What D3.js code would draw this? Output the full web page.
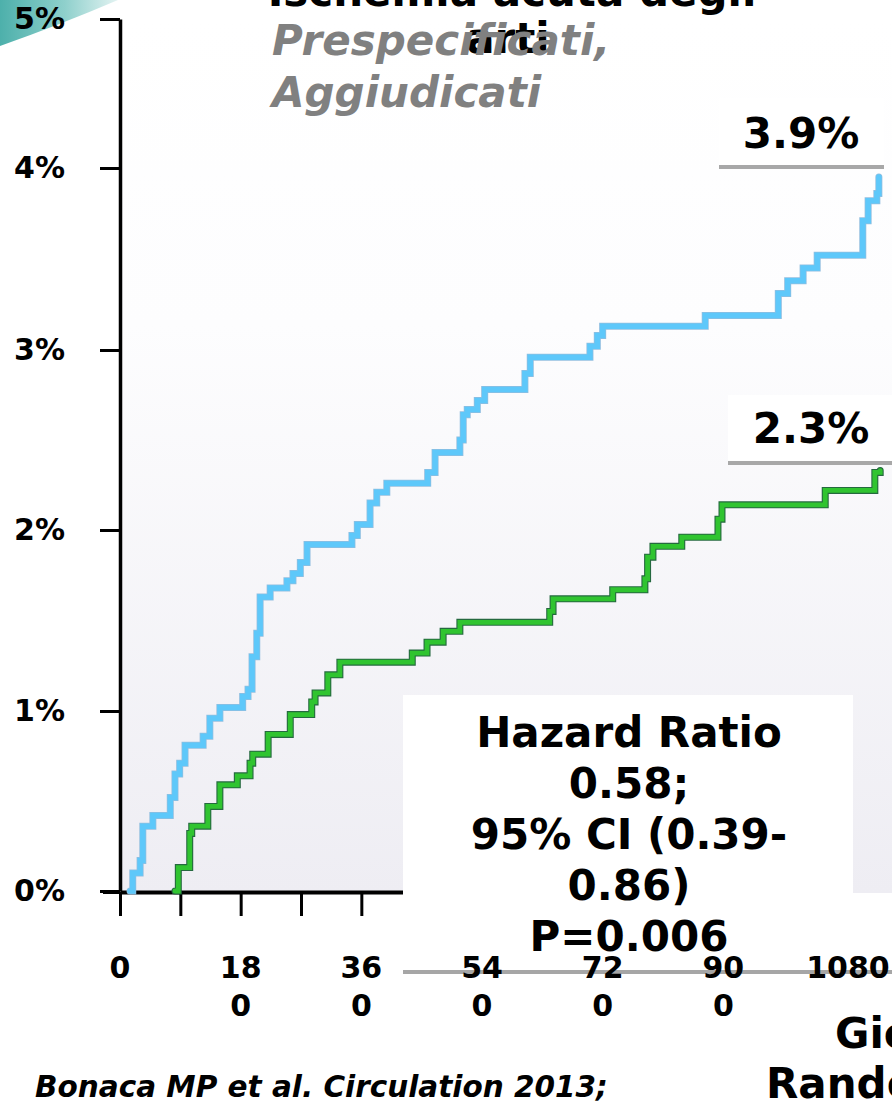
<!DOCTYPE html>
<html><head><meta charset="utf-8">
<script src="https://cdn.jsdelivr.net/npm/d3@7"></script>
<style>
body{margin:0;background:#fff}
svg{display:block}
text{font-family:"DejaVu Sans",sans-serif;font-weight:bold}
</style>
</head><body>
<script>
// ---- data (days from randomization, cumulative %) ----
const blueDays = [15,19,30,34,49,75,82,89,97,124,134,149,183,191,197,204,209,224,249,258,269,279,346,354,373,383,398,459,470,507,512,518,533,544,604,612,701,712,720,873,982,996,1019,1040,1108,1116,1129,1132];
const bluePct  = [0,0.10,0.17,0.36,0.42,0.52,0.65,0.71,0.81,0.86,0.96,1.02,1.08,1.12,1.30,1.43,1.63,1.68,1.72,1.76,1.82,1.92,1.97,2.03,2.15,2.21,2.26,2.32,2.43,2.50,2.64,2.67,2.72,2.78,2.87,2.96,3.02,3.08,3.13,3.19,3.31,3.38,3.45,3.52,3.71,3.82,3.86,3.95];
const greenDays = [82,87,104,107,131,149,175,194,198,221,254,286,291,310,328,436,458,482,507,641,646,735,783,787,795,838,892,898,1052,1126,1134];
const greenPct  = [0,0.13,0.32,0.36,0.47,0.59,0.64,0.71,0.76,0.87,0.98,1.05,1.10,1.20,1.27,1.32,1.38,1.44,1.49,1.55,1.62,1.67,1.73,1.85,1.91,1.96,2.06,2.14,2.22,2.32,2.33];
const yTicks = [0,1,2,3,4,5];
const yTickLabels = ["0%","1%","2%","3%","4%","5%"];
const xTicks = [0,90,180,270,360,450,540,630,720,810,900,990,1080];
const xLabelValues = [0,180,360,540,720,900,1080];
const xLabelLines = [["0"],["18","0"],["36","0"],["54","0"],["72","0"],["90","0"],["1080"]];
const endLabels = ["3.9%","2.3%"];
const hrLines = ["Hazard Ratio","0.58;","95% CI (0.39-","0.86)","P=0.006"];
const titleLines = ["Ischemia acuta degli","arti"];
const subtitleLines = ["Prespecificati,","Aggiudicati"];
const xTitleLines = ["Giorni dalla","Randomizzazione"];
const citation = "Bonaca MP et al. Circulation 2013;";

const W = 892, H = 1101;
const svg = d3.select("body").append("svg").attr("width", W).attr("height", H);
const defs = svg.append("defs");

const bg = defs.append("linearGradient").attr("id","bg").attr("x1",0).attr("y1",0).attr("x2",0).attr("y2",1);
bg.append("stop").attr("offset","0%").attr("stop-color","#ffffff");
bg.append("stop").attr("offset","35%").attr("stop-color","#fdfdfe");
bg.append("stop").attr("offset","100%").attr("stop-color","#eeedf3");
const teal = defs.append("linearGradient").attr("id","teal").attr("x1",0).attr("y1",0).attr("x2",1).attr("y2",0);
teal.append("stop").attr("offset","0%").attr("stop-color","#4db0ab");
teal.append("stop").attr("offset","55%").attr("stop-color","#8fd0cc");
teal.append("stop").attr("offset","100%").attr("stop-color","#e3f3f2");

const x = d3.scaleLinear().domain([0,1080]).range([120,844]);
const y = d3.scaleLinear().domain([0,1,2,3,4,5]).range([891,711,530,350,168,19]);

// decoration top-left
svg.append("path").attr("d","M0,0 H118 Q62,24 0,46 Z").attr("fill","url(#teal)");

// plot background
svg.append("rect").attr("x",120).attr("y",y(5)).attr("width",W-120).attr("height",y(0)+2-y(5)).attr("fill","url(#bg)");

// title
svg.append("g").selectAll("text").data(titleLines).join("text")
  .attr("x",(d,i)=> i===0 ? 512 : 508).attr("y",(d,i)=> 6 + i*47)
  .attr("text-anchor","middle").attr("font-size",42).attr("fill","#000").text(d=>d);
svg.append("g").selectAll("text").data(subtitleLines).join("text")
  .attr("x",272).attr("y",(d,i)=> 55 + i*52)
  .attr("font-size",42).attr("font-style","italic").attr("fill","#808080").text(d=>d);

// y axis
const yAxis = d3.axisLeft(y).tickValues(yTicks).tickSize(20).tickSizeOuter(0).tickPadding(35)
  .tickFormat((d,i)=>yTickLabels[i]);
const gy = svg.append("g").attr("transform","translate(120,0)").call(yAxis);
gy.select(".domain").attr("stroke","#000").attr("stroke-width",3.5);
gy.selectAll(".tick line").attr("stroke","#000").attr("stroke-width",3);
gy.selectAll(".tick text").attr("font-size",30).attr("fill","#000").attr("font-family","DejaVu Sans").attr("font-weight","bold");

// x axis
const xAxis = d3.axisBottom(x).tickValues(xTicks).tickSize(24).tickSizeOuter(0).tickFormat("");
const gx = svg.append("g").attr("transform","translate(0,892)").call(xAxis);
gx.select(".domain").attr("stroke","#000").attr("stroke-width",4);
gx.selectAll(".tick line").attr("stroke","#000").attr("stroke-width",3);
svg.append("line").attr("x1",103).attr("x2",x(0)).attr("y1",892).attr("y2",892).attr("stroke","#000").attr("stroke-width",4);

// curves
const line = d3.line().curve(d3.curveStepAfter).x(d=>x(d[0])).y(d=>y(d[1]));
const blue = blueDays.map((d,i)=>[d,bluePct[i]]);
const green = greenDays.map((d,i)=>[d,greenPct[i]]);
svg.append("path").attr("d",line(blue)).attr("fill","none").attr("stroke","#92bedf").attr("stroke-width",7).attr("stroke-linecap","round");
svg.append("path").attr("d",line(blue)).attr("fill","none").attr("stroke","#5ec8fa").attr("stroke-width",5.5).attr("stroke-linecap","round");
svg.append("path").attr("d",line(green)).attr("fill","none").attr("stroke","#25693f").attr("stroke-width",7).attr("stroke-linecap","round");
svg.append("path").attr("d",line(green)).attr("fill","none").attr("stroke","#30c430").attr("stroke-width",4.8).attr("stroke-linecap","round");

// end labels
const endBoxes = [{x:719,y:98,w:165,line:167,tx:801,ty:148},{x:728,y:395,w:164,line:463,tx:811,ty:443}];
endBoxes.forEach((b,i)=>{
  svg.append("rect").attr("x",b.x).attr("y",b.y).attr("width",b.w).attr("height",b.line-b.y-2).attr("fill","#fff");
  svg.append("line").attr("x1",b.x).attr("x2",b.x+b.w).attr("y1",b.line).attr("y2",b.line).attr("stroke","#a8a8a8").attr("stroke-width",4);
  svg.append("text").attr("x",b.tx).attr("y",b.ty).attr("text-anchor","middle").attr("font-size",42).attr("fill","#000").text(endLabels[i]);
});

// hazard ratio box
svg.append("rect").attr("x",403).attr("y",695).attr("width",450).attr("height",277).attr("fill","#fff");
svg.append("line").attr("x1",403).attr("x2",892).attr("y1",972).attr("y2",972).attr("stroke","#a6a6a6").attr("stroke-width",4);
svg.append("g").selectAll("text").data(hrLines).join("text")
  .attr("x",629).attr("y",(d,i)=>747 + i*51)
  .attr("text-anchor","middle").attr("font-size",42).attr("fill","#000").text(d=>d);

// x tick labels
const gl = svg.append("g");
xLabelValues.forEach((v,i)=>{
  const cx = i===xLabelLines.length-1 ? x(v)+4 : x(v);
  gl.append("g").selectAll("text").data(xLabelLines[i]).join("text")
    .attr("x",cx).attr("y",(d,j)=>978 + j*38)
    .attr("text-anchor","middle").attr("font-size",30).attr("fill","#000").text(d=>d);
});

// x title
svg.append("g").selectAll("text").data(xTitleLines).join("text")
  .attr("x",(d,i)=> i===0 ? 835 : 766).attr("y",(d,i)=>1048 + i*50)
  .attr("font-size",42).attr("fill","#000").text(d=>d);

// citation
svg.append("text").attr("x",35).attr("y",1097).attr("font-size",29.5).attr("font-style","italic").attr("fill","#000").text(citation);
</script>
</body></html>
